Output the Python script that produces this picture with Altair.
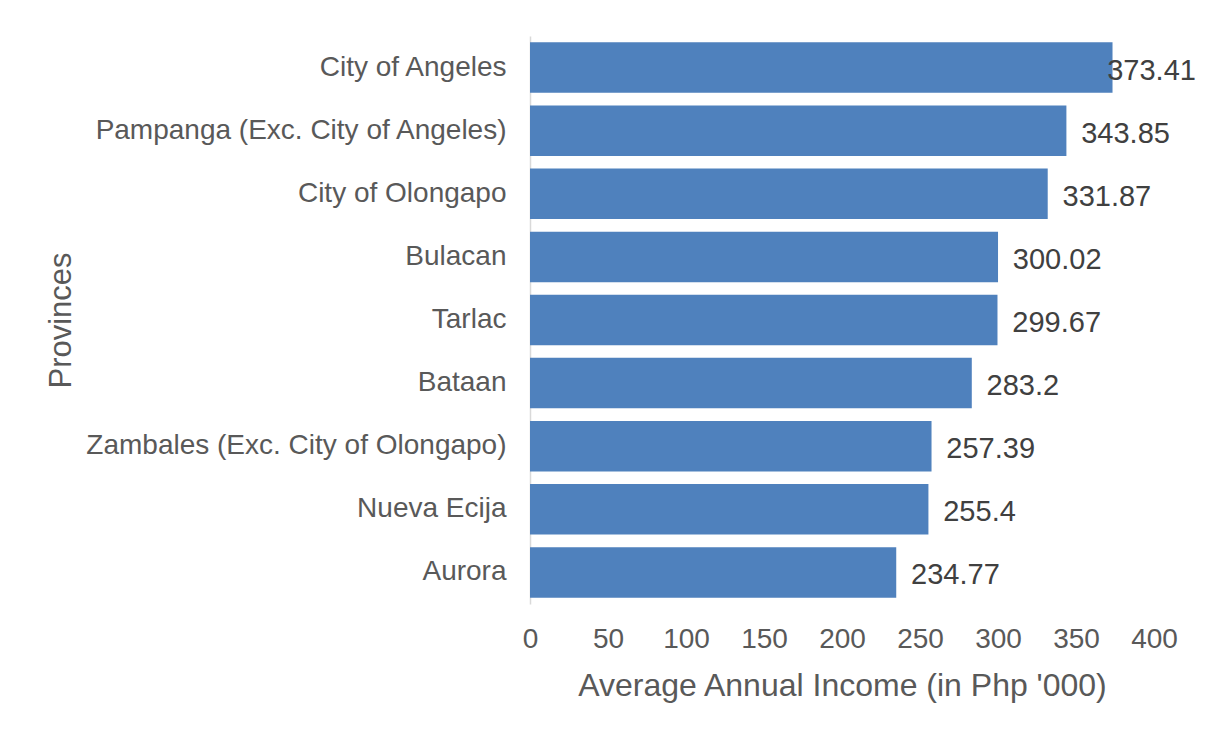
import altair as alt
import pandas as pd

provinces = [
    "City of Angeles",
    "Pampanga (Exc. City of Angeles)",
    "City of Olongapo",
    "Bulacan",
    "Tarlac",
    "Bataan",
    "Zambales (Exc. City of Olongapo)",
    "Nueva Ecija",
    "Aurora",
]
income = [373.41, 343.85, 331.87, 300.02, 299.67, 283.2, 257.39, 255.4, 234.77]
x_ticks = [0, 50, 100, 150, 200, 250, 300, 350, 400]

df = pd.DataFrame({"Province": provinces, "Income": income})
df["Label"] = [str(v) for v in income]

FONT = "Liberation Sans"
GRAY = "#595959"

base = alt.Chart(df).encode(
    y=alt.Y(
        "Province:N",
        sort=provinces,
        scale=alt.Scale(paddingInner=0.2, paddingOuter=0.1),
        axis=alt.Axis(
            title="Provinces",
            titleFont=FONT,
            titleFontSize=31,
            titleFontWeight="normal",
            titleColor=GRAY,
            titleX=-453,
            titleY=284,
            titleAlign="center",
            titleAngle=270,
            labelFont=FONT,
            labelFontSize=28,
            labelColor=GRAY,
            labelPadding=24,
            labelLimit=600,
            ticks=False,
            tickSize=0,
            domainColor="#D9D9D9",
            domainWidth=1.5,
            grid=False,
        ),
    )
)

bars = base.mark_bar(color="#4F81BD").encode(
    x=alt.X(
        "Income:Q",
        scale=alt.Scale(domain=[0, 400]),
        axis=alt.Axis(
            title="Average Annual Income (in Php '000)",
            values=x_ticks,
            titleFont=FONT,
            titleFontSize=32,
            titleFontWeight="normal",
            titleColor=GRAY,
            titlePadding=17,
            labelFont=FONT,
            labelFontSize=28,
            labelColor=GRAY,
            labelPadding=21,
            labelFlush=False,
            labelOverlap=False,
            ticks=False,
            tickSize=0,
            domain=False,
            grid=False,
        ),
    )
)

labels = base.transform_calculate(
    lx="min(datum.Income + 9.5, 370)"
).mark_text(
    align="left", baseline="middle", font=FONT, fontSize=29, color="#404040", dy=3
).encode(
    x=alt.X("lx:Q"),
    text="Label:N",
)

chart = (
    alt.layer(bars, labels)
    .properties(
        width=624,
        height=568,
        background="white",
        autosize=alt.AutoSizeParams(type="none"),
        padding={"left": 522, "top": 28, "right": 43, "bottom": 110},
    )
    .configure_view(strokeWidth=0, stroke=None)
)

chart.save("out.html", embed_options={"renderer": "svg", "actions": False})
